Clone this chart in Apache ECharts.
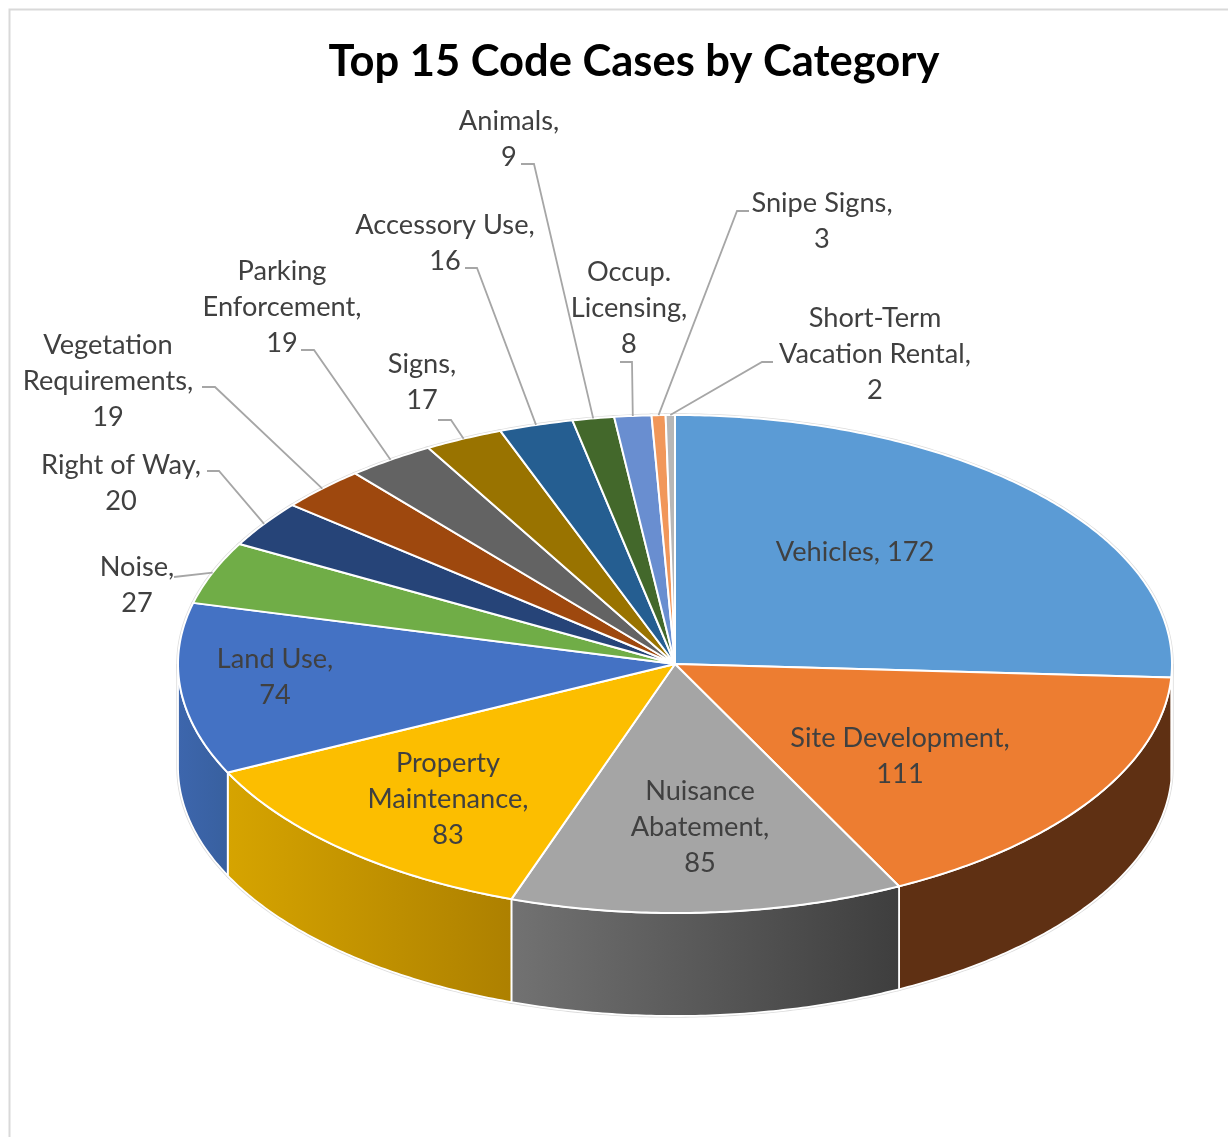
<!DOCTYPE html>
<html>
<head>
<meta charset="utf-8">
<title>Top 15 Code Cases by Category</title>
<style>
    html, body { margin: 0; padding: 0; background: #fff; }
    #main { width: 1228px; height: 1137px; }
</style>
</head>
<body>
<div id="main"></div>
<script src="https://cdn.jsdelivr.net/npm/echarts@6/dist/echarts.min.js"></script>
<script>
let categories = ['Vehicles', 'Site Development', 'Nuisance\nAbatement', 'Property\nMaintenance', 'Land Use', 'Noise', 'Right of Way', 'Vegetation\nRequirements', 'Parking\nEnforcement', 'Signs', 'Accessory Use', 'Animals', 'Occup.\nLicensing', 'Snipe Signs', 'Short-Term\nVacation Rental'];
let caseCounts = [172, 111, 85, 83, 74, 27, 20, 19, 19, 17, 16, 9, 8, 3, 2];

let topColors = ['#5b9bd5', '#ed7d31', '#a5a5a5', '#fcbe00', '#4472c4', '#70ad47', '#264478', '#9e480e', '#636363', '#997300', '#255e91', '#43682b', '#698ed0', '#f1975a', '#b7b7b7'];
// side wall colours, only the front slices show a wall
let wallColors = [
    ['#3f6f9e', '#3f6f9e'], ['#5f3013', '#5f3013'], ['#727272', '#3e3e3e'], ['#d6a400', '#ad8000'], ['#3d66ad', '#38609f']
];
// label centres and leader elbows, in pixels
let labelCenters = [[855, 552], [900, 756], [700, 827], [448, 799], [275, 677], [137, 585], [121, 483], [108, 381], [282, 307], [422, 382], [445, 243], [509, 139], [629, 308], [822, 221], [875, 354]];
let leaderPoints = [null, null, null, null, null,
    [[174, 577]],
    [[207, 471], [219, 471]],
    [[202, 387], [215, 387]],
    [[301, 350], [314, 350]],
    [[438, 420], [451, 420]],
    [[465, 268], [477, 268]],
    [[521, 164], [534, 164]],
    [[620, 362], [632, 362]],
    [[749, 211], [737, 211]],
    [[773, 362], [762, 362]]
];

const CX = 675, CY = 664, RX = 497, RY = 249, DEPTH = 103;
const FONT = 'Lato, "Noto Sans", sans-serif';
let total = caseCounts.reduce(function (a, b) { return a + b; }, 0);

// slice index -> [start, end] in radians, clockwise from the top of the ellipse
let sliceAngles = [];
let running = 0;
caseCounts.forEach(function (v) {
    sliceAngles.push([running / total * Math.PI * 2, (running + v) / total * Math.PI * 2]);
    running += v;
});

function rimPoint(angle, drop) {
    return [CX + RX * Math.sin(angle), CY - RY * Math.cos(angle) + (drop || 0)];
}

function arcPoints(a0, a1, drop) {
    let pts = [];
    let steps = Math.max(2, Math.ceil((a1 - a0) / 0.01));
    for (let i = 0; i <= steps; i++) {
        pts.push(rimPoint(a0 + (a1 - a0) * i / steps, drop));
    }
    return pts;
}

function slicePolygon(i) {
    return [[CX, CY]].concat(arcPoints(sliceAngles[i][0], sliceAngles[i][1], 0));
}

// part of the wall that faces the viewer, null when the slice is at the back
function wallPolygon(i) {
    let a0 = Math.max(sliceAngles[i][0], Math.PI / 2);
    let a1 = Math.min(sliceAngles[i][1], Math.PI * 1.5);
    if (a1 <= a0) {
        return null;
    }
    return arcPoints(a0, a1, 0).concat(arcPoints(a0, a1, DEPTH).reverse());
}

function wallOutline(params) {
    let pts = wallPolygon(params.dataIndex);
    if (!pts) {
        return null;
    }
    return {
        type: 'polygon',
        shape: { points: pts },
        style: { fill: '#dcdcdc', stroke: '#dcdcdc', lineWidth: 3.4 }
    };
}

function wallItem(params) {
    let pts = wallPolygon(params.dataIndex);
    if (!pts) {
        return null;
    }
    let c = wallColors[params.dataIndex];
    return {
        type: 'polygon',
        shape: { points: pts },
        style: {
            fill: {
                type: 'linear', x: 0, y: 0, x2: 1, y2: 0,
                colorStops: [{ offset: 0, color: c[0] }, { offset: 1, color: c[1] }]
            },
            stroke: '#fff',
            lineWidth: 1.8,
            lineJoin: 'round'
        }
    };
}

function topOutline(params) {
    return {
        type: 'polygon',
        shape: { points: slicePolygon(params.dataIndex) },
        style: { fill: '#dcdcdc', stroke: '#dcdcdc', lineWidth: 3.4 }
    };
}

function topItem(params) {
    return {
        type: 'polygon',
        shape: { points: slicePolygon(params.dataIndex) },
        style: {
            fill: topColors[params.dataIndex],
            stroke: '#fff',
            lineWidth: 2,
            lineJoin: 'round'
        }
    };
}

function labelItem(params, api) {
    let i = params.dataIndex;
    let children = [];
    if (leaderPoints[i]) {
        let mid = (sliceAngles[i][0] + sliceAngles[i][1]) / 2;
        children.push({
            type: 'polyline',
            shape: { points: leaderPoints[i].concat([rimPoint(mid, 0)]) },
            style: { fill: null, stroke: '#a6a6a6', lineWidth: 1.8 }
        });
    }
    children.push({
        type: 'text',
        style: {
            text: categories[i] + ',' + (i === 0 ? ' ' : '\n') + api.value(0),
            x: labelCenters[i][0],
            y: labelCenters[i][1],
            align: 'center',
            verticalAlign: 'middle',
            fill: '#404040',
            font: '27.2px ' + FONT,
            lineHeight: 36
        }
    });
    return { type: 'group', children: children };
}

let seriesData = caseCounts.map(function (v) { return [v]; });

function customSeries(render, z) {
    return {
        type: 'custom',
        coordinateSystem: 'none',
        renderItem: render,
        data: seriesData,
        z: z,
        silent: true,
        animation: false
    };
}

let option = {
    animation: false,
    backgroundColor: '#fff',
    title: {
        text: 'Top 15 Code Cases by Category',
        left: 629,
        top: 35,
        textAlign: 'center',
        textStyle: {
            color: '#000',
            fontFamily: FONT,
            fontWeight: 'bold',
            fontSize: 43.5
        }
    },
    graphic: [{
        type: 'rect',
        silent: true,
        shape: { x: 9.5, y: 9.5, width: 1300, height: 1300 },
        style: { fill: null, stroke: '#d9d9d9', lineWidth: 2 }
    }],
    series: [
        customSeries(wallOutline, 1),
        customSeries(topOutline, 2),
        customSeries(wallItem, 3),
        customSeries(topItem, 4),
        customSeries(labelItem, 5)
    ]
};

let chart = echarts.init(document.getElementById('main'));
chart.setOption(option);
</script>
</body>
</html>
